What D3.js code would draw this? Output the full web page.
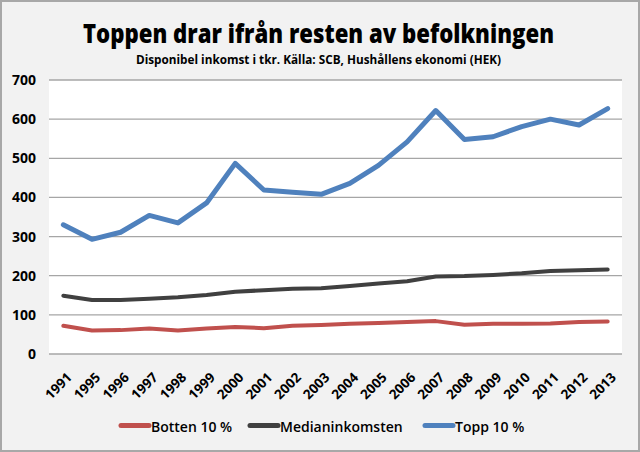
<!DOCTYPE html>
<html><head><meta charset="utf-8">
<script src="https://cdn.jsdelivr.net/npm/d3@7"></script>
<style>
html,body{margin:0;padding:0;background:#fff;}
svg{display:block;}
</style></head>
<body>
<svg id="c" width="640" height="452"></svg>
<script>
const years = ["1991","1995","1996","1997","1998","1999","2000","2001","2002","2003","2004","2005","2006","2007","2008","2009","2010","2011","2012","2013"];
const botten = [72,60,61,65,60,65,69,66,72,74,77,79,82,84,75,77,77,78,82,83];
const median = [149,138,138,141,145,151,159,163,167,168,174,180,186,198,199,202,206,212,214,216];
const topp = [330,293,311,354,335,386,487,419,413,408,436,482,542,622,548,555,581,600,585,627];
const yTicks = [0,100,200,300,400,500,600,700];
const seriesNames = ["Botten 10 %","Medianinkomsten","Topp 10 %"];
const seriesColors = ["#c0504d","#404040","#4f81bd"];
const series = [botten, median, topp];

const svg = d3.select("#c");
svg.append("rect").attr("x",1).attr("y",1).attr("width",638).attr("height",450)
  .attr("fill","#f2f2f2").attr("stroke","#a8a8a8").attr("stroke-width",2);

const m = {l:49, r:622, t:80, b:354};
svg.append("rect").attr("x",m.l).attr("y",m.t).attr("width",m.r-m.l).attr("height",m.b-m.t)
  .attr("fill","#fff");

const x = d3.scaleBand().domain(years).range([m.l,m.r]);
const y = d3.scaleLinear().domain([0,700]).range([m.b,m.t]);

// grid
svg.append("g").selectAll("line").data(yTicks).join("line")
  .attr("x1",m.l).attr("x2",m.r).attr("y1",d=>y(d)).attr("y2",d=>y(d))
  .attr("stroke","#a6a6a6").attr("stroke-width",1.3);

// y axis labels
const yAxis = d3.axisLeft(y).tickValues(yTicks).tickSize(0).tickPadding(0);
const ya = svg.append("g").attr("transform",`translate(36,0)`).call(yAxis);
ya.select(".domain").remove();
ya.selectAll("text").attr("font-family","'Open Sans', sans-serif").attr("font-weight","bold")
  .attr("font-size","14px").attr("fill","#000");

// x axis labels
const xAxis = d3.axisBottom(x).tickSize(0).tickPadding(0);
const xa = svg.append("g").attr("transform",`translate(0,${m.b})`).call(xAxis);
xa.select(".domain").remove();
xa.selectAll("text").attr("font-family","'Open Sans', sans-serif").attr("font-weight","bold")
  .attr("font-size","13.5px").attr("fill","#000")
  .attr("text-anchor","end").attr("dy","0.35em")
  .attr("transform","translate(6,21) rotate(-45)");

// lines
const line = d3.line().x((d,i)=>x(years[i])+x.bandwidth()/2).y(d=>y(d));
series.forEach((s,k)=>{
  svg.append("path").datum(s).attr("d",line).attr("fill","none")
    .attr("stroke",seriesColors[k]).attr("stroke-width",k===2?5:4)
    .attr("stroke-linejoin","round").attr("stroke-linecap","round");
});

// title
svg.append("text").attr("x",318.5).attr("y",43).attr("text-anchor","middle")
  .attr("textLength",471).attr("lengthAdjust","spacingAndGlyphs")
  .attr("font-family","'Open Sans', sans-serif").attr("font-weight","800").attr("font-size","26px")
  .attr("fill","#000")
  .text("Toppen drar ifrån resten av befolkningen");
svg.append("text").attr("x",318.5).attr("y",63.5).attr("text-anchor","middle")
  .attr("textLength",365).attr("lengthAdjust","spacingAndGlyphs")
  .attr("font-family","'Open Sans', sans-serif").attr("font-weight","bold").attr("font-size","12px")
  .attr("fill","#000")
  .text("Disponibel inkomst i tkr. Källa: SCB, Hushållens ekonomi (HEK)");

// legend
const lx = [121,250,425];
const lg = svg.append("g");
seriesNames.forEach((n,k)=>{
  lg.append("line").attr("x1",lx[k]).attr("x2",lx[k]+28).attr("y1",425.5).attr("y2",425.5)
    .attr("stroke",seriesColors[k]).attr("stroke-width",5).attr("stroke-linecap","round");
  lg.append("text").attr("x",lx[k]+30).attr("y",432)
    .attr("font-family","'Open Sans', sans-serif").attr("font-weight","600").attr("font-size","14px").attr("fill","#000")
    .text(n);
});
</script>
</body></html>
